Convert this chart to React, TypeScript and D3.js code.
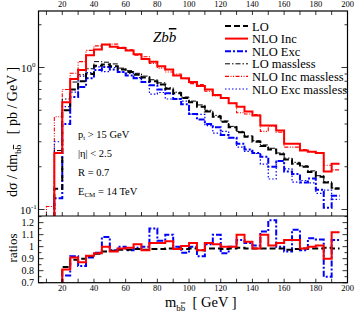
import React from 'react';
import * as d3 from 'd3';

// bin lower edges (GeV), 5 GeV wide
const mainBins = [10, 15, 20, 25, 30, 35, 40, 45, 50, 55, 60, 65, 70, 75, 80, 85, 90, 95, 100, 105, 110, 115, 120, 125, 130, 135, 140, 145, 150, 155, 160, 165, 170, 175, 180, 185, 190];
const ratioBins = mainBins.slice(2);

const lo = [null, 0.14, 0.50, 0.70, 0.80, 0.90, 1.03, 1.05, 1.02, 0.97, 0.93, 0.89, 0.85, 0.80, 0.76, 0.71, 0.66, 0.61, 0.57, 0.53, 0.49, 0.45, 0.415, 0.38, 0.35, 0.325, 0.30, 0.28, 0.265, 0.245, 0.225, 0.21, 0.20, 0.184, 0.17, 0.155, 0.14];
const nloInc = [null, 0.25, 0.57, 0.83, 0.96, 1.22, 1.34, 1.45, 1.40, 1.37, 1.32, 1.24, 1.15, 1.10, 1.02, 0.97, 0.88, 0.84, 0.79, 0.74, 0.70, 0.64, 0.61, 0.56, 0.53, 0.49, 0.46, 0.39, 0.39, 0.36, 0.29, 0.29, 0.26, 0.255, 0.25, 0.185, 0.21];
const nloExc = [null, 0.12, 0.40, 0.62, 0.73, 0.84, 0.96, 1.01, 0.97, 0.93, 0.88, 0.84, 0.79, 0.75, 0.70, 0.66, 0.60, 0.55, 0.47, 0.43, 0.40, 0.38, 0.335, 0.32, 0.29, 0.265, 0.25, 0.235, 0.20, 0.22, 0.185, 0.178, 0.155, 0.165, 0.138, 0.103, 0.125];
const loMassless = [0.07, 0.26, 0.60, 0.79, 0.89, 0.98, 1.10, 1.09, 1.06, 0.99, 0.95, 0.91, 0.87, 0.82, 0.78, 0.72, 0.67, 0.62, 0.58, 0.545, 0.50, 0.46, 0.42, 0.385, 0.355, 0.33, 0.305, 0.285, 0.27, 0.25, 0.23, 0.215, 0.203, 0.187, 0.173, 0.157, 0.142];
const nloIncMassless = [0.105, 0.45, 0.70, 0.91, 1.10, 1.32, 1.42, 1.45, 1.46, 1.39, 1.33, 1.22, 1.19, 1.07, 0.99, 0.93, 0.90, 0.835, 0.77, 0.76, 0.68, 0.63, 0.61, 0.56, 0.48, 0.47, 0.467, 0.355, 0.386, 0.35, 0.275, 0.275, 0.264, 0.255, 0.248, 0.205, 0.19];
const nloExcMassless = [0.08, 0.30, 0.53, 0.67, 0.87, 0.92, 1.01, 0.935, 1.0, 0.93, 0.91, 0.85, 0.79, 0.65, 0.667, 0.60, 0.60, 0.58, 0.47, 0.467, 0.39, 0.345, 0.355, 0.32, 0.275, 0.257, 0.248, 0.209, 0.164, 0.22, 0.193, 0.156, 0.16, 0.154, 0.13, 0.137, 0.118];

// massive / massless
const ratioLo = [0.83, 0.89, 0.90, 0.92, 0.94, 0.96, 0.965, 0.975, 0.975, 0.98, 0.975, 0.98, 0.98, 0.985, 0.985, 0.98, 0.985, 0.97, 0.985, 0.985, 0.98, 0.985, 0.99, 0.985, 0.985, 0.985, 0.985, 0.985, 0.975, 0.98, 0.985, 0.985, 0.985, 0.99, 0.985];
const ratioInc = [0.81, 0.91, 0.87, 0.925, 0.945, 1.0, 0.96, 0.985, 0.99, 1.02, 0.97, 1.03, 1.03, 1.045, 0.98, 1.005, 1.03, 0.97, 1.03, 1.02, 1.0, 1.0, 1.10, 1.04, 0.985, 1.10, 1.01, 1.03, 1.055, 1.055, 0.985, 1.0, 1.01, 0.90, 1.12];
const ratioExc = [0.76, 0.92, 0.84, 0.91, 0.95, 1.08, 0.97, 1.0, 0.97, 0.99, 1.0, 1.15, 1.05, 1.10, 1.0, 0.95, 1.0, 0.92, 1.02, 1.10, 0.945, 1.0, 1.055, 1.03, 1.01, 1.125, 1.22, 1.0, 0.96, 1.14, 0.97, 1.07, 1.06, 0.75, 1.055];

const xMajor = [20, 40, 60, 80, 100, 120, 140, 160, 180, 200];
const xMinor = [10, 30, 50, 70, 90, 110, 130, 150, 170, 190];
const yMajor = [0.1, 1];
const yMinor = [0.2, 0.3, 0.4, 0.5, 0.6, 0.7, 0.8, 0.9, 2];
const rMajor = [0.7, 0.8, 0.9, 1.0, 1.1, 1.2];
const rMinor = [0.75, 0.85, 0.95, 1.05, 1.15, 1.25];

const BIN = 5;
const L = 38.5, R = 347.5, T = 11, MB = 216, RB = 282.7;
const FONT = '"Liberation Serif", "DejaVu Serif", serif';

const styles = {
  lo: { stroke: '#000', width: 2, dash: '6,3' },
  nloInc: { stroke: '#ff0000', width: 2, dash: null },
  nloExc: { stroke: '#0000ff', width: 2, dash: '6,2,2,2' },
  loM: { stroke: '#000', width: 1, dash: '5,2,1.5,2' },
  nloIncM: { stroke: '#ff0000', width: 1.1, dash: '4,1.5,1,1.5,1,1.5' },
  nloExcM: { stroke: '#0000ff', width: 1.2, dash: '1.5,2' },
};

const legend = [
  { label: 'LO', s: styles.lo },
  { label: 'NLO Inc', s: styles.nloInc },
  { label: 'NLO Exc', s: styles.nloExc },
  { label: 'LO massless', s: styles.loM },
  { label: 'NLO Inc massless', s: styles.nloIncM },
  { label: 'NLO Exc massless', s: styles.nloExcM },
];

const x = d3.scaleLinear().domain([5, 200]).range([L, R]);
const y = d3.scaleLog().domain([0.09, 2.5]).range([MB, T]);
const yr = d3.scaleLinear().domain([0.7, 1.255]).range([RB, MB]);

function histPath(bins: number[], vals: (number | null)[], ys: any, bottom: number) {
  const pts: [number, number][] = [];
  bins.forEach((b, i) => {
    const v = vals[i];
    if (v == null) return;
    if (pts.length === 0) pts.push([x(b), bottom]);
    pts.push([x(b), ys(v)]);
  });
  const lastVal = vals[vals.length - 1] as number;
  pts.push([x(bins[bins.length - 1] + BIN), ys(lastVal)]);
  return d3.line().curve(d3.curveStepAfter)(pts) || '';
}

const Bbar = () => (
  <tspan>b<tspan style={{ textDecoration: 'overline' }}>b</tspan></tspan>
);

export default function App() {
  const mainSeries = [
    { v: nloIncMassless, s: styles.nloIncM },
    { v: loMassless, s: styles.loM },
    { v: nloExcMassless, s: styles.nloExcM },
    { v: nloExc, s: styles.nloExc },
    { v: lo, s: styles.lo },
    { v: nloInc, s: styles.nloInc },
  ];
  const ratioSeries = [
    { v: ratioExc, s: styles.nloExc },
    { v: ratioLo, s: styles.lo },
    { v: ratioInc, s: styles.nloInc },
  ];
  const legY = (i: number) => 26 + i * 12.6;
  return (
    <svg width={356} height={313} style={{ position: 'absolute', left: 0, top: 0, background: '#fff' }} fontFamily={FONT}>
      <defs>
        <clipPath id="clipMain"><rect x={L} y={T} width={R - L} height={MB - T} /></clipPath>
        <clipPath id="clipRatio"><rect x={L} y={MB} width={R - L} height={RB - MB} /></clipPath>
      </defs>

      <g clipPath="url(#clipMain)">
        {mainSeries.map((d, i) => (
          <path key={i} d={histPath(mainBins, d.v, y, MB + 2)} fill="none" stroke={d.s.stroke}
            strokeWidth={d.s.width} strokeDasharray={d.s.dash || undefined} />
        ))}
      </g>
      <g clipPath="url(#clipRatio)">
        {ratioSeries.map((d, i) => (
          <path key={i} d={histPath(ratioBins, d.v, yr, RB + 2)} fill="none" stroke={d.s.stroke}
            strokeWidth={d.s.width} strokeDasharray={d.s.dash || undefined} />
        ))}
      </g>

      {/* frames */}
      <rect x={L} y={T} width={R - L} height={RB - T} fill="none" stroke="#000" strokeWidth={1.2} />
      <line x1={L} x2={R} y1={MB} y2={MB} stroke="#000" strokeWidth={1.2} />

      {/* x ticks */}
      {xMajor.concat(xMinor).map(t => (
        <g key={'xt' + t} stroke="#000" strokeWidth={0.8}>
          <line x1={x(t)} x2={x(t)} y1={T} y2={T + 4} />
          <line x1={x(t)} x2={x(t)} y1={MB} y2={MB - 4} />
          <line x1={x(t)} x2={x(t)} y1={RB} y2={RB - 4} />
        </g>
      ))}
      {xMajor.map(t => (
        <g key={'xl' + t} fontSize={8.5} textAnchor="middle">
          <text x={x(t)} y={7}>{t}</text>
          <text x={x(t)} y={291}>{t}</text>
        </g>
      ))}

      {/* main y ticks */}
      {yMajor.map(t => (
        <g key={'ym' + t} stroke="#000" strokeWidth={0.8}>
          <line x1={L} x2={L + 6} y1={y(t)} y2={y(t)} />
          <line x1={R} x2={R - 6} y1={y(t)} y2={y(t)} />
        </g>
      ))}
      {yMinor.map(t => (
        <g key={'yn' + t} stroke="#000" strokeWidth={0.8}>
          <line x1={L} x2={L + 3} y1={y(t)} y2={y(t)} />
          <line x1={R} x2={R - 3} y1={y(t)} y2={y(t)} />
        </g>
      ))}
      <text x={21} y={y(1) + 4} fontSize={11}>10<tspan fontSize={7} dy={-5}>0</tspan></text>
      <text x={20} y={y(0.1) + 4} fontSize={11}>10<tspan fontSize={7} dy={-5}>-1</tspan></text>

      {/* ratio y ticks */}
      {rMajor.map(t => (
        <g key={'rm' + t}>
          <line x1={L} x2={L + 5} y1={yr(t)} y2={yr(t)} stroke="#000" strokeWidth={0.8} />
          <line x1={R} x2={R - 5} y1={yr(t)} y2={yr(t)} stroke="#000" strokeWidth={0.8} />
          <text x={34} y={yr(t) + 3.5} fontSize={10} textAnchor="end">{t === 1 ? '1' : t.toFixed(1)}</text>
        </g>
      ))}
      {rMinor.map(t => (
        <g key={'rn' + t} stroke="#000" strokeWidth={0.8}>
          <line x1={L} x2={L + 3} y1={yr(t)} y2={yr(t)} />
          <line x1={R} x2={R - 3} y1={yr(t)} y2={yr(t)} />
        </g>
      ))}

      {/* axis titles */}
      <text transform="translate(17,132) rotate(-90)" fontSize={14} textAnchor="middle">
        dσ / dm<tspan fontSize={9} dy={4}><Bbar /></tspan><tspan dy={-4}>{'\u00a0\u00a0\u00a0[ pb / GeV ]'}</tspan>
      </text>
      <text transform="translate(17,248) rotate(-90)" fontSize={13} textAnchor="middle">ratios</text>
      <text x={165} y={307} fontSize={14.5}>
        m<tspan fontSize={9} dy={3.5}><Bbar /></tspan><tspan dy={-3.5}>{'\u00a0\u00a0[ GeV ]'}</tspan>
      </text>

      {/* process label */}
      <text x={153} y={42} fontSize={15} fontStyle="italic">Z<Bbar /></text>

      {/* legend */}
      {legend.map((d, i) => (
        <g key={d.label}>
          <line x1={225} x2={248} y1={legY(i)} y2={legY(i)} stroke={d.s.stroke} strokeWidth={d.s.width}
            strokeDasharray={d.s.dash || undefined} />
          <text x={252} y={legY(i) + 4.5} fontSize={12.5}>{d.label}</text>
        </g>
      ))}

      {/* cuts */}
      <g fontSize={10.5}>
        <text x={78} y={137.5}>p<tspan fontSize={7} dy={2}>t</tspan><tspan dy={-2}> &gt; 15 GeV</tspan></text>
        <text x={78} y={156.5}>|η| &lt; 2.5</text>
        <text x={78} y={175.5}>R = 0.7</text>
        <text x={78} y={194.5}>E<tspan fontSize={7} dy={2}>CM</tspan><tspan dy={-2}> = 14 TeV</tspan></text>
      </g>
    </svg>
  );
}
